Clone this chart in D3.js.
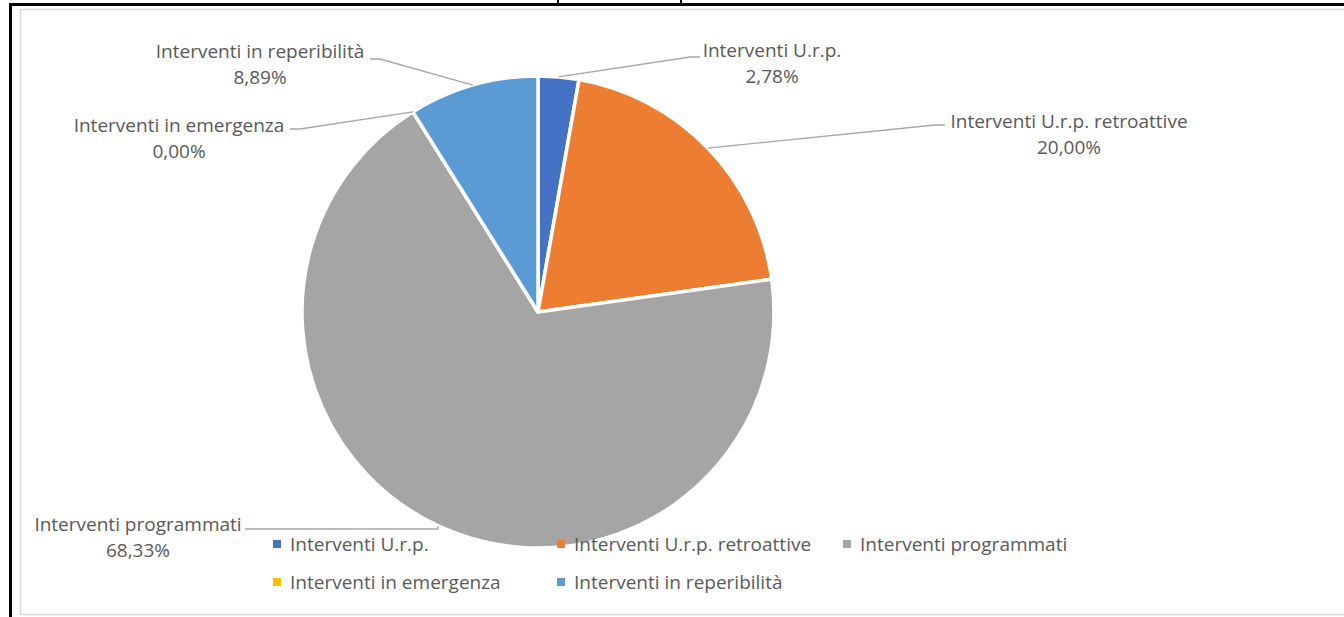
<!DOCTYPE html>
<html lang="it">
<head>
<meta charset="utf-8">
<title>Interventi</title>
<script src="https://d3js.org/d3.v7.min.js"></script>
<style>
  body { margin: 0; background: #fff; }
  svg text { font-family: "Open Sans", Lato, sans-serif; fill: #595959; }
</style>
</head>
<body>
<svg width="1344" height="617"></svg>
<script>
// data
var categories = ["Interventi U.r.p.", "Interventi U.r.p. retroattive", "Interventi programmati", "Interventi in emergenza", "Interventi in reperibilità"];
var percents = [2.78, 20.00, 68.33, 0.00, 8.89];
var colors = ["#4472C4", "#ED7D31", "#A5A5A5", "#FFC000", "#5B9BD5"];

// where Excel put the data labels (layout only)
var labelPos = [
  {x: 772, y: 57, ex: 690, ey: 57, hx: 700},
  {x: 1069, y: 128, ex: 935, ey: 125, hx: 945},
  {x: 138, y: 531, ex: 438, ey: 529, hx: 245},
  {x: 179, y: 132, ex: 300, ey: 129, hx: 290},
  {x: 260, y: 58, ex: 380, ey: 59, hx: 370}
];

var svg = d3.select("svg");
var fs = 19;

// page lines around the chart
svg.append("rect").attr("x", 20.5).attr("y", 9.5).attr("width", 1400).attr("height", 605)
  .attr("fill", "#fff").attr("stroke", "#d9d9d9").attr("stroke-width", 1.5);
svg.append("rect").attr("x", 9).attr("y", 3).attr("width", 1335).attr("height", 3).attr("fill", "#000");
svg.append("rect").attr("x", 9).attr("y", 3).attr("width", 3).attr("height", 614).attr("fill", "#000");
svg.append("rect").attr("x", 557).attr("y", 0).attr("width", 2).attr("height", 4).attr("fill", "#000");
svg.append("rect").attr("x", 680).attr("y", 0).attr("width", 2).attr("height", 4).attr("fill", "#000");

var cx = 538, cy = 312, r = 236;
var data = categories.map((c, i) => ({name: c, v: percents[i], color: colors[i], lp: labelPos[i]}));

var pie = d3.pie().value(d => d.v).sort(null);
var arc = d3.arc().innerRadius(0).outerRadius(r);
var arcs = pie(data);

var g = svg.append("g").attr("transform", `translate(${cx},${cy})`);
g.selectAll("path")
  .data(arcs)
  .enter()
  .append("path")
  .attr("d", arc)
  .attr("fill", d => d.data.color)
  .attr("stroke", "#fff")
  .attr("stroke-width", 3.5)
  .attr("stroke-linejoin", "round");

// leader lines
var fmt = v => v.toFixed(2).replace(".", ",") + "%";
svg.append("g").selectAll("polyline")
  .data(arcs)
  .enter()
  .append("polyline")
  .attr("points", d => {
    var a = (d.startAngle + d.endAngle) / 2;
    var p = [cx + r * Math.sin(a), cy - r * Math.cos(a)];
    return [p, [d.data.lp.ex, d.data.lp.ey], [d.data.lp.hx, d.data.lp.ey]].join(" ");
  })
  .attr("fill", "none")
  .attr("stroke", "#a6a6a6")
  .attr("stroke-width", 1.3);

var labels = svg.append("g").selectAll("text")
  .data(arcs)
  .enter()
  .append("text")
  .attr("text-anchor", "middle")
  .attr("font-size", fs);
labels.append("tspan").attr("x", d => d.data.lp.x).attr("y", d => d.data.lp.y).text(d => d.data.name);
labels.append("tspan").attr("x", d => d.data.lp.x).attr("y", d => d.data.lp.y + 26).text(d => fmt(d.data.v));

// legend
var legX = [273, 557, 843, 273, 557];
var legY = [544, 544, 544, 582, 582];
var leg = svg.append("g").selectAll("g")
  .data(data)
  .enter()
  .append("g")
  .attr("transform", (d, i) => `translate(${legX[i]},${legY[i]})`);
leg.append("rect").attr("x", 0).attr("y", -4).attr("width", 8).attr("height", 8)
  .attr("fill", d => d.color);
leg.append("text").attr("x", 17).attr("y", 7).attr("font-size", fs).text(d => d.name);
</script>
</body>
</html>
